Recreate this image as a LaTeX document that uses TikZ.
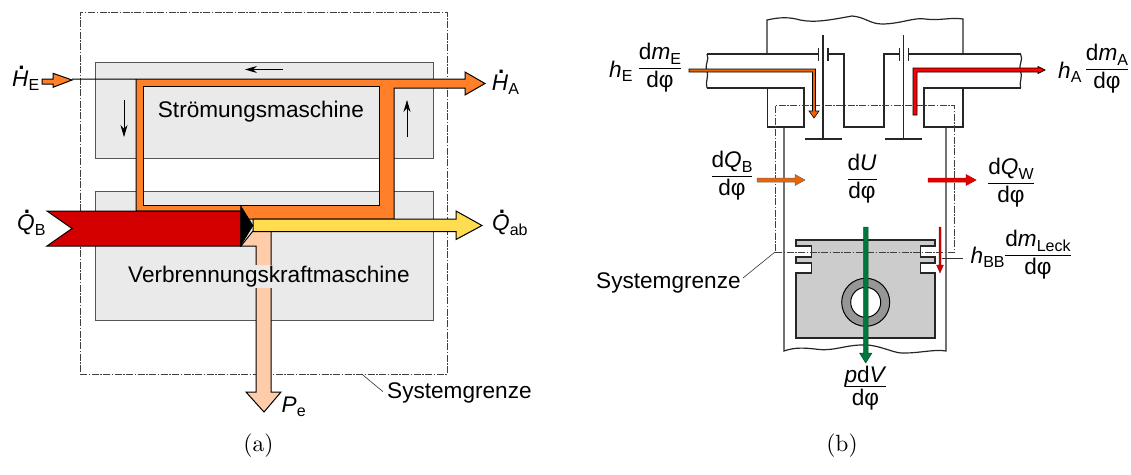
\documentclass[tikz,border=0pt]{standalone}
\usepackage{fontspec}
\setsansfont{Liberation Sans}
\usetikzlibrary{arrows.meta}
\definecolor{flowor}{RGB}{255,128,40}
\definecolor{flowre}{RGB}{212,0,0}
\definecolor{flowye}{RGB}{255,220,80}
\definecolor{flowpe}{RGB}{255,204,170}
\definecolor{boxgr}{RGB}{234,234,234}
\definecolor{edgegr}{RGB}{85,85,85}
\definecolor{pistongr}{RGB}{204,204,204}
\definecolor{pingr}{RGB}{150,150,150}
\definecolor{flowgr}{RGB}{0,120,60}
\definecolor{intakeor}{RGB}{240,100,0}
\newcommand\lbl{\sffamily\fontsize{22.6}{25}\selectfont}
\newcommand\sbs[1]{\raisebox{-0.22em}{\fontsize{16}{17}\selectfont #1}}
\newcommand\dotit[1]{\ooalign{\hfil\raisebox{0.74em}{\bfseries\kern0.1em.}\hfil\cr\textit{#1}\cr}}
\newcommand\frc[2]{$\displaystyle{\hbox{\lbl #1}\above 0.8pt\hbox{\lbl #2}}$}
\tikzset{
  x=1pt,y=-1pt,
  sysb/.style={draw=black!75,line width=0.7pt,dash pattern=on 7pt off 1.5pt on 1.5pt off 1.5pt},
  graybox/.style={draw=edgegr,fill=boxgr,line width=0.9pt},
  flow/.style={draw=black,line width=1pt,line join=miter},
  wall/.style={draw=black!85,line width=1.2pt,line join=miter},
  thinarr/.style={draw=black,line width=0.7pt,-{Stealth[length=12pt,width=7pt,inset=4pt]}},
  lab/.style={inner sep=0pt,font=\lbl},
  txt/.style={lab,anchor=base west},
  frac/.style={lab,anchor=base},
  capt/.style={inner sep=0pt,scale=2.35,anchor=base},
  leader/.style={draw=black!80,line width=0.6pt},
}
\begin{document}
\begin{tikzpicture}
\useasboundingbox (0,0) rectangle (1131,474);
% ---- (a)
\node[graybox,minimum width=338pt,minimum height=96pt,inner sep=0pt] (upper) at (264,110) {};
\node[graybox,minimum width=338pt,minimum height=129pt,inner sep=0pt] (lower) at (264,255.5) {};
\node[sysb,minimum width=367pt,minimum height=362pt,inner sep=0pt] (sys) at (263.5,193) {};
% orange flow
\path[flow,fill=flowor] (72,79) -- (136,79) -- (136,211) -- (241,211) -- (241,219) -- (394,219) -- (394,88) -- (465,88) -- (465,95) -- (485,83.5) -- (465,72) -- (465,79) -- cycle;
% inner opening
\path[fill=boxgr] (143,86) rectangle (379,205);
\path[draw=edgegr,fill=white,line width=0.9pt] (143,158) rectangle (379,191);
\path[draw=black,line width=1pt] (143,86) rectangle (379,205);
\path[flow,fill=flowor] (42,79) -- (53,79) -- (53,73.3) -- (72,80) -- (53,87.3) -- (53,84) -- (42,84) -- cycle;
% peach
\path[flow,fill=flowpe] (241,246) -- (256,246) -- (256,392) -- (246,392) -- (264,412) -- (281,392) -- (271,392) -- (271,231) -- (253,231) -- cycle;
% yellow
\path[flow,fill=flowye] (253,219) -- (456,219) -- (456,211) -- (482,225.5) -- (456,239.5) -- (456,231.5) -- (253,231.5) -- cycle;
% red
\path[flow,fill=flowre] (47,211) -- (241,211) -- (241,246) -- (47,246) -- (72,228.5) -- cycle;
\path[fill=black,draw=black,line width=0.5pt] (240.5,205.5) -- (253,225.5) -- (240.5,246) -- cycle;
\draw[thinarr] (283,69.5) -- (245,69.5);
\draw[thinarr] (124,100) -- (124,137);
\draw[thinarr] (407,137) -- (407,100);
\node[txt] (stroem) at (157.7,117.5) {Strömungsmaschine};
\node[txt,fill=boxgr,inner ysep=1pt] (verbr) at (128,282.7) {Verbrennungskraftmaschine};
\node[txt] (he) at (12,86) {\dotit{H}\sbs{E}};
\node[txt] (qb) at (17,230.5) {\dotit{Q}\sbs{B}};
\node[txt] (ha) at (491.7,90) {\dotit{H}\sbs{A}};
\node[txt] (qab) at (492,230.5) {\dotit{Q}\sbs{ab}};
\node[txt] (pe) at (281.5,412) {\textit{P}\sbs{e}};
\node[txt] (sg1) at (387,398) {Systemgrenze};
\coordinate (s1) at (361.7,374);
\coordinate (s1e) at (383,391.7);
\draw[leader] (s1) -- (s1e);
\node[capt] (capa) at (258.5,451) {(a)};
% ---- (b)
\draw[wall] (767,54) -- (767,20) .. controls (780,17) and (790,17) .. (800,20) .. controls (815,23) and (830,20) .. (852,16) .. controls (865,17) and (870,24) .. (882,24) .. controls (900,24) and (915,17) .. (925,19) .. controls (940,21) and (950,17) .. (963,19) -- (963,54);
\draw[wall] (707,54) -- (818,54);
\draw[wall] (707,88) -- (804,88) -- (804,127) -- (767.5,127) -- (767.5,88);
\draw[wall] (707,54) .. controls (710,60) and (704,64) .. (707,71) .. controls (709,76) and (705,82) .. (707,88);
\draw[wall] (828,54) -- (844,54) -- (844,127) -- (884,127) -- (884,54) -- (899,54);
\draw[wall] (908.5,54) -- (1020.5,54);
\draw[wall] (1020.5,88) -- (924,88) -- (924,127) -- (963,127) -- (963,88);
\draw[wall] (1020.5,54) .. controls (1024,60) and (1018,64) .. (1020.5,71) .. controls (1023,76) and (1019,82) .. (1020.5,88);
\draw[wall] (818.5,48) -- (818.5,61) (828,48) -- (828,61) (899.5,48) -- (899.5,61) (908.5,48) -- (908.5,61);
\draw[wall] (823,35) -- (823,139) (805,139) -- (842,139) (903.5,35) -- (903.5,139) (885,139) -- (922,139);
\draw[wall] (784,127) -- (784,351) .. controls (795,347) and (805,348) .. (815,349) .. controls (835,352) and (845,344) .. (868,345) .. controls (885,347) and (895,354) .. (905,353) .. controls (920,353) and (935,349) .. (946,351) -- (946,127);
% piston
\path[wall,fill=pistongr] (796,240) -- (935,240) -- (935,246) -- (920.7,246) -- (920.7,257) -- (935,257) -- (935,263) -- (920.7,263) -- (920.7,273) -- (935,273) -- (935,338) -- (796,338) -- (796,273) -- (811.7,273) -- (811.7,263) -- (796,263) -- (796,257) -- (811.7,257) -- (811.7,246) -- (796,246) -- cycle;
\node[circle,draw=black,fill=pingr,line width=1pt,minimum size=48pt,inner sep=0pt] (pin) at (865.7,302.3) {};
\node[circle,draw=black,fill=white,line width=1pt,minimum size=30pt,inner sep=0pt] (bore) at (865.7,302.3) {};
% system boundary b
\node[sysb,minimum width=179pt,minimum height=147pt,inner sep=0pt] (sysb) at (864.5,178.5) {};
% flows
\draw[draw=black,fill=intakeor,line width=0.6pt] (689,69) -- (815.5,69) -- (815.5,111) -- (819,111) -- (814,118) -- (809,111) -- (812.5,111) -- (812.5,72) -- (689,72) -- cycle;
\draw[draw=black,fill=red,line width=0.7pt] (913,115) -- (913,68) -- (1038,68) -- (1038,66.5) -- (1045,70) -- (1038,73.5) -- (1038,72) -- (917,72) -- (917,115) -- cycle;
\draw[draw=black!60,fill=intakeor,line width=0.5pt] (757,178) -- (795,178) -- (795,174.5) -- (805,180) -- (795,185.5) -- (795,182) -- (757,182) -- cycle;
\draw[draw=red!70!black,fill=red!90!black,line width=0.5pt] (928,178) -- (966,178) -- (966,174.5) -- (976,180) -- (966,185.5) -- (966,182) -- (928,182) -- cycle;
\draw[draw=flowgr!70!black,fill=flowgr,line width=0.5pt] (863.5,227) -- (868,227) -- (868,353) -- (872,353) -- (865.7,363) -- (859.5,353) -- (863.5,353) -- cycle;
\draw[draw=red!60!black,fill=red!80!black,line width=0.3pt] (939,227) -- (941,227) -- (941,265) -- (943.5,265) -- (940,273) -- (936.5,265) -- (939,265) -- cycle;
% labels
\node[txt] (he2) at (609,77) {\textit{h}\sbs{E}};
\node[frac] (fe) at (660,73.5) {\frc{d\textit{m}\sbs{E}}{dφ}};
\node[txt] (ha2) at (1058,78) {\textit{h}\sbs{A}};
\node[frac] (fa) at (1107,74.5) {\frc{d\textit{m}\sbs{A}}{dφ}};
\node[frac] (fq1) at (732,181.5) {\frc{d\textit{Q}\sbs{B}}{dφ}};
\node[frac] (fq2) at (1011,188.5) {\frc{d\textit{Q}\sbs{W}}{dφ}};
\node[frac] (fu) at (862,184.5) {\frc{d\textit{U}}{dφ}};
\node[frac] (fv) at (865.5,391.5) {\frc{\raisebox{-5pt}[\height][0pt]{\textit{p}d\textit{V}}}{dφ}};
\node[txt] (hb) at (970.5,263) {\textit{h}\sbs{BB}};
\node[frac] (fl) at (1038,260.5) {\frc{d\textit{m}\sbs{Leck}}{dφ}};
\coordinate (lk) at (941.7,258);
\coordinate (lke) at (963,258);
\draw[leader] (lk) -- (lke);
\node[txt] (sg2) at (596,288) {Systemgrenze};
\coordinate (s2) at (775,252);
\coordinate (s2e) at (743,278);
\draw[leader] (s2) -- (s2e);
\node[capt] (capb) at (842,451) {(b)};
\end{tikzpicture}
\end{document}
